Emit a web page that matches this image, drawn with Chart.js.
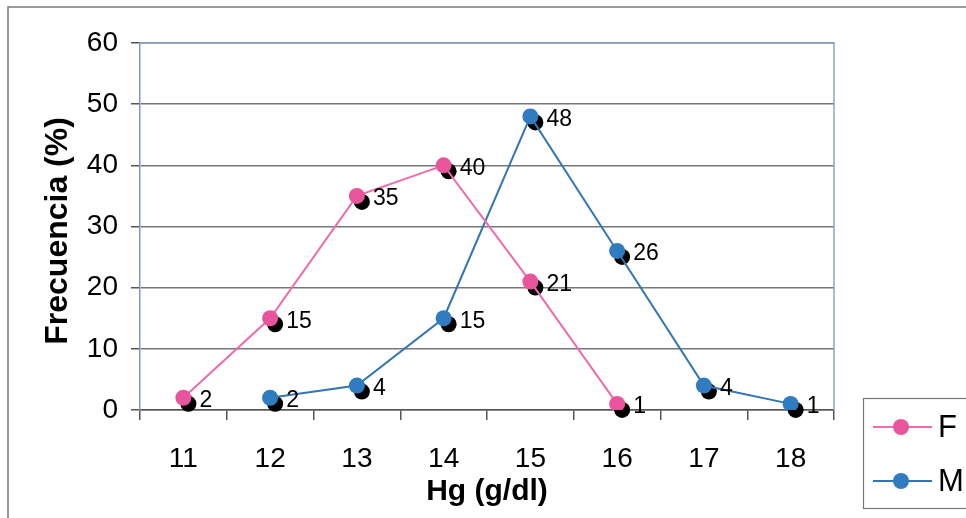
<!DOCTYPE html>
<html>
<head>
<meta charset="utf-8">
<script src="https://cdn.jsdelivr.net/npm/chart.js@4.4.1/dist/chart.umd.min.js"></script>
<style>
  html, body { margin: 0; padding: 0; background: #fff; }
  #wrap { width: 966px; height: 518px; position: relative; }
</style>
</head>
<body>
<div id="wrap"><canvas id="c" width="966" height="518"></canvas></div>
<script>
// Hemoglobin categories (g/dl) and frequency (%) per sex
const categories = ['11', '12', '13', '14', '15', '16', '17', '18'];
const femaleValues = [2, 15, 35, 40, 21, 1, null, null];
const maleValues = [null, 2, 4, 15, 48, 26, 4, 1];
const yTicks = [0, 10, 20, 30, 40, 50, 60];
const seriesNames = ['F', 'M'];

const FONT = '"Liberation Sans", Arial, sans-serif';
const PINK_LINE = '#f06aae';
const PINK_PT = '#e8559c';
const BLUE_LINE = '#3475b3';
const BLUE_PT = '#2f7cc0';

// Black drop shadow behind each marker
const markerShadow = {
  id: 'markerShadow',
  beforeDatasetsDraw(chart) {
    const ctx = chart.ctx;
    ctx.save();
    ctx.fillStyle = '#000';
    chart.data.datasets.forEach((ds, i) => {
      const meta = chart.getDatasetMeta(i);
      meta.data.forEach((pt, j) => {
        if (ds.data[j] == null) return;
        ctx.beginPath();
        ctx.arc(pt.x + 5, pt.y + 6, 8, 0, Math.PI * 2);
        ctx.fill();
      });
    });
    ctx.restore();
  }
};

// Value labels next to each marker
const valueLabels = {
  id: 'valueLabels',
  afterDatasetsDraw(chart) {
    const ctx = chart.ctx;
    ctx.save();
    ctx.fillStyle = '#000';
    ctx.font = '23px ' + FONT;
    ctx.textAlign = 'left';
    ctx.textBaseline = 'middle';
    chart.data.datasets.forEach((ds, i) => {
      const meta = chart.getDatasetMeta(i);
      meta.data.forEach((pt, j) => {
        const v = ds.data[j];
        if (v == null) return;
        ctx.fillText(String(v), pt.x + 16, pt.y + 3);
      });
    });
    ctx.restore();
  }
};

// Plot-area frame, outer frame and the legend box
const frames = {
  id: 'frames',
  beforeDatasetsDraw(chart) {
    const {ctx, chartArea: a} = chart;
    ctx.save();
    ctx.strokeStyle = '#8fa2d4';
    ctx.lineWidth = 1.5;
    ctx.beginPath();
    ctx.moveTo(a.left, a.top);
    ctx.lineTo(a.right, a.top);
    ctx.lineTo(a.right, a.bottom);
    ctx.stroke();
    ctx.restore();
  },
  afterDraw(chart) {
    const ctx = chart.ctx;
    ctx.save();
    // outer frame
    ctx.strokeStyle = '#7a7a7a';
    ctx.lineWidth = 1.5;
    ctx.beginPath();
    ctx.moveTo(8, 518);
    ctx.lineTo(8, 7);
    ctx.lineTo(966, 7);
    ctx.stroke();
    // legend
    ctx.strokeStyle = '#777';
    ctx.lineWidth = 1.2;
    ctx.strokeRect(863.5, 398.5, 130, 110);
    const items = [
      {name: seriesNames[0], line: PINK_LINE, pt: PINK_PT, y: 427},
      {name: seriesNames[1], line: BLUE_LINE, pt: BLUE_PT, y: 481}
    ];
    items.forEach(it => {
      ctx.strokeStyle = it.line;
      ctx.lineWidth = 2;
      ctx.beginPath();
      ctx.moveTo(873, it.y);
      ctx.lineTo(932, it.y);
      ctx.stroke();
      ctx.fillStyle = it.pt;
      ctx.beginPath();
      ctx.arc(901, it.y, 8, 0, Math.PI * 2);
      ctx.fill();
      ctx.fillStyle = '#000';
      ctx.font = '31px ' + FONT;
      ctx.textAlign = 'left';
      ctx.textBaseline = 'middle';
      ctx.fillText(it.name, 938, it.y + 1);
    });
    ctx.restore();
  }
};

new Chart(document.getElementById('c'), {
  type: 'line',
  data: {
    labels: categories,
    datasets: [
      {
        label: seriesNames[0],
        data: femaleValues,
        borderColor: PINK_LINE,
        backgroundColor: PINK_PT,
        pointBackgroundColor: PINK_PT,
        pointBorderColor: PINK_PT,
        pointRadius: 8,
        pointBorderWidth: 0,
        borderWidth: 2,
        tension: 0,
        spanGaps: false
      },
      {
        label: seriesNames[1],
        data: maleValues,
        borderColor: BLUE_LINE,
        backgroundColor: BLUE_PT,
        pointBackgroundColor: BLUE_PT,
        pointBorderColor: BLUE_PT,
        pointRadius: 8,
        pointBorderWidth: 0,
        borderWidth: 2,
        tension: 0,
        spanGaps: false
      }
    ]
  },
  options: {
    responsive: false,
    animation: false,
    events: [],
    layout: { padding: { left: 0, top: 43, right: 132, bottom: 8 } },
    plugins: { legend: { display: false }, tooltip: { enabled: false } },
    scales: {
      x: {
        offset: true,
        border: { color: '#555', width: 1.5 },
        grid: { offset: true, drawOnChartArea: false, drawTicks: true, tickLength: 10, tickColor: '#555', lineWidth: 1.5 },
        ticks: { color: '#000', font: { family: FONT, size: 28 }, padding: 22, maxRotation: 0 },
        title: { display: true, text: 'Hg (g/dl)', color: '#000', font: { family: FONT, size: 30, weight: 'bold' }, padding: { top: 0, bottom: 0 } },
        afterFit(scale) { scale.height = 518 - 8 - 410; }
      },
      y: {
        min: 0,
        max: 60,
        afterBuildTicks(scale) { scale.ticks = yTicks.map(v => ({ value: v })); },
        border: { color: '#8596c6', width: 1.5 },
        grid: { color: '#777', lineWidth: 1.5, tickLength: 9, tickColor: '#555' },
        ticks: { color: '#000', font: { family: FONT, size: 28 }, padding: 13 },
        title: { display: true, text: 'Frecuencia (%) ', color: '#000', font: { family: FONT, size: 32, weight: 'bold' }, padding: { top: 39, bottom: 0 } },
        afterFit(scale) { scale.width = 140; }
      }
    }
  },
  plugins: [markerShadow, valueLabels, frames]
});
</script>
</body>
</html>
